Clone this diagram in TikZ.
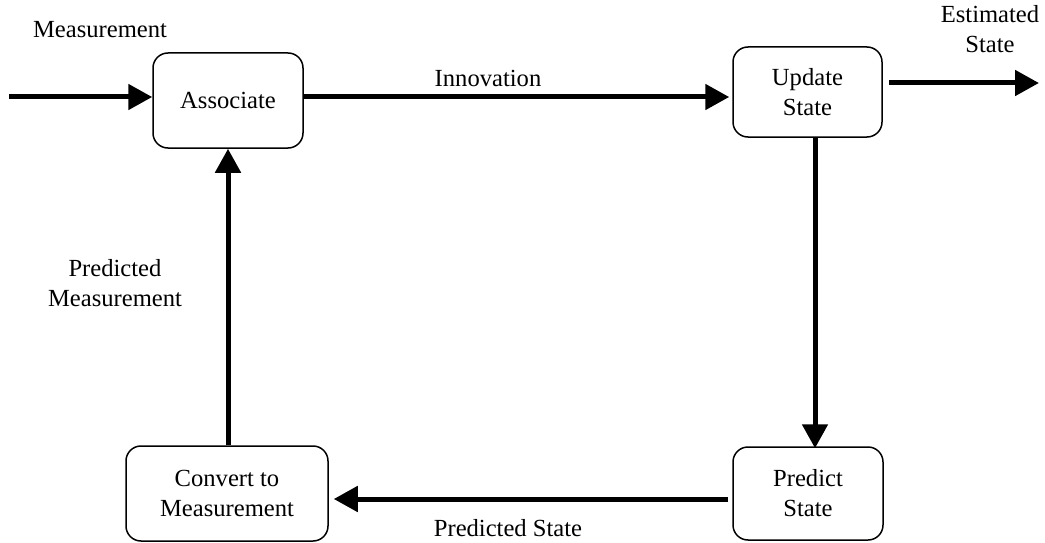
\documentclass[tikz,border=0pt]{standalone}
\usepackage{fontspec}
\setmainfont{Liberation Serif}
\usetikzlibrary{arrows.meta}
\begin{document}
\begin{tikzpicture}[x=1pt,y=-1pt,
  box/.style={draw, line width=1.5pt, rounded corners=15pt, align=center, inner sep=0pt},
  flow/.style={line width=5pt, -{Triangle[length=24pt,width=25pt]}},
  lbl/.style={align=center, inner sep=0pt, font=\fontsize{24.6}{30}\selectfont},
  every node/.append style={font=\fontsize{24.6}{30}\selectfont}]
\useasboundingbox (0,0) rectangle (1045,543);
\node[box, minimum width=150pt, minimum height=95pt] (assoc) at (228,100.5) {Associate};
\node[box, minimum width=149pt, minimum height=90pt] (upd) at (807.5,92) {Update\\State};
\node[box, minimum width=150pt, minimum height=93pt] (pred) at (808,493.5) {Predict\\State};
\node[box, minimum width=202pt, minimum height=95pt] (conv) at (227,493.5) {Convert to\\Measurement};
\coordinate (in) at (9,97);
\coordinate (out) at (1039,83);
\draw[flow] (in) -- (assoc.west |- in);
\draw[flow] (assoc.east |- in) -- ([xshift=-3pt]upd.west |- in);
\draw[flow] ([xshift=6pt]upd.east |- out) -- (out);
\draw[flow] (upd.south -| 815,0) -- ([yshift=-2pt]pred.north -| 815,0);
\draw[flow] ([xshift=-4pt]pred.west |- 0,499) -- ([xshift=5pt]conv.east |- 0,499);
\draw[flow] (conv.north -| 228,0) -- (assoc.south -| 228,0);
\node[lbl] (lmeas) at (100,30) {Measurement};
\node[lbl] (linno) at (488,78) {Innovation};
\node[lbl] (lest) at (990,29) {Estimated\\State};
\node[lbl] (lpm) at (115,283) {Predicted\\Measurement};
\node[lbl] (lps) at (508,528) {Predicted State};
\end{tikzpicture}
\end{document}
